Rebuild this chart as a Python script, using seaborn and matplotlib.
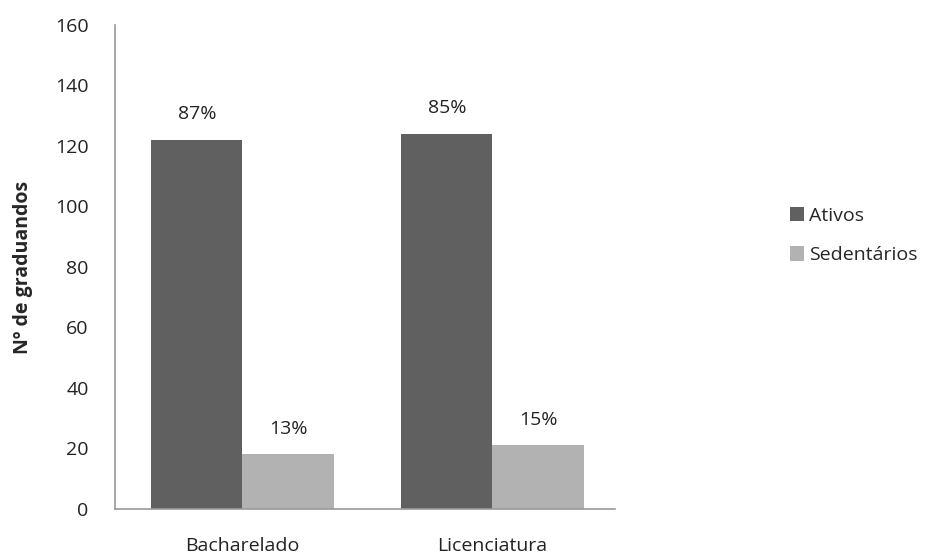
import matplotlib
matplotlib.use("Agg")
import matplotlib.pyplot as plt
import seaborn as sns
import pandas as pd

categories = ["Bacharelado", "Licenciatura"]
series_names = ["Ativos", "Sedentários"]
ativos = [122, 124]
sedentarios = [18, 21]
pct_ativos = ["87%", "85%"]
pct_sedentarios = ["13%", "15%"]
yticks = [0, 20, 40, 60, 80, 100, 120, 140, 160]

sns.set_theme(style="white")
plt.rcParams["font.family"] = ["Open Sans", "DejaVu Sans"]

df = pd.DataFrame({
    "cat": categories * 2,
    "serie": [series_names[0]] * 2 + [series_names[1]] * 2,
    "val": ativos + sedentarios,
})

fig = plt.figure(figsize=(9.43, 5.55), dpi=100)
ax = fig.add_axes([0.122, 0.083, 0.53, 0.872])
sns.barplot(data=df, x="cat", y="val", hue="serie", order=categories,
            hue_order=series_names, palette=["#606060", "#b2b2b2"],
            width=0.73, saturation=1, ax=ax, errorbar=None, linewidth=0)

labels = [pct_ativos, pct_sedentarios]
for cont, labs in zip(ax.containers, labels):
    ax.bar_label(cont, labels=labs, padding=12, fontsize=14, color="#222222")

ax.set_ylim(0, 160)
ax.set_yticks(yticks)
ax.set_xlim(-0.51, 1.49)
ax.tick_params(axis="y", labelsize=14, colors="#222222", length=0, pad=19)
ax.tick_params(axis="x", labelsize=14, colors="#222222", length=0, pad=20)
ax.set_xlabel("")
ax.set_ylabel("Nº de graduandos", fontsize=14, fontweight="bold", labelpad=16)
for s in ["top", "right"]:
    ax.spines[s].set_visible(False)
for s in ["left", "bottom"]:
    ax.spines[s].set_color("#9a9a9a")
    ax.spines[s].set_linewidth(1.2)

ax.legend(loc="center left", bbox_to_anchor=(1.315, 0.565), frameon=False,
          fontsize=14, handlelength=0.75, handleheight=0.75, handletextpad=0.25,
          labelspacing=1.1)

fig.savefig("out.png", dpi=100)
